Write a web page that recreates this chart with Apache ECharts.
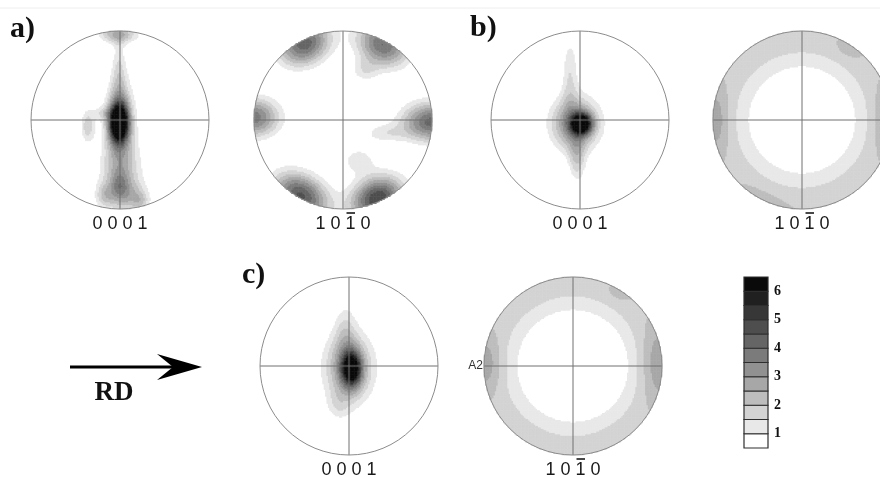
<!DOCTYPE html>
<html>
<head>
<meta charset="utf-8">
<script src="https://cdn.jsdelivr.net/npm/echarts@6/dist/echarts.min.js"></script>
<style>html,body{margin:0;padding:0;background:#fff}#chart{width:880px;height:477px}</style>
</head>
<body>
<div id="chart"></div>
<script>
// ---------------- DATA ----------------
// contour level boundaries (multiples of random) and their grey fills
const levelEdges = [1, 1.5, 2, 2.5, 3, 3.5, 4, 4.5, 5, 5.5, 6];
const levelColors = ['#ffffff', '#e8e8e8', '#d3d3d3', '#bdbdbd', '#a7a7a7', '#919191',
                     '#7b7b7b', '#656565', '#4e4e4e', '#373737', '#202020', '#0a0a0a'];
// colour bar boxes (lower/upper bound of each box) and its tick labels
const colorbarBounds = [0.5, 1, 1.5, 2, 2.5, 3, 3.5, 4, 4.5, 5, 5.5, 6, 6.5];
const colorbarTicks = [1, 2, 3, 4, 5, 6];

const panelLabels = ['a)', 'b)', 'c)'];
const figureLabels = ['0 0 0 1', '1 0 1 0', '0 0 0 1', '1 0 1 0', '0 0 0 1', '1 0 1 0'];
const figureOverline = [-1, 2, -1, 2, -1, 2];   // index of the barred digit

// Texture components of each pole figure, in units of the pole-figure radius
// peak: [x0, y0, sigmaX, sigmaY, intensity, rotationDeg]
const peaksA0001 = [
  [-0.01, -0.03, 0.075, 0.15, 6.5, 0],
  [0.00, 0.05, 0.11, 0.30, 3.0, 0],
  [-0.01, 0.60, 0.06, 0.25, 1.2, 0],
  [-0.08, 0.97, 0.14, 0.08, 1.7, 0],
  [0.08, 0.96, 0.14, 0.07, 1.2, 0],
  [0.01, -0.60, 0.17, 0.30, 2.4, 0],
  [0.00, -0.75, 0.07, 0.12, 1.5, 0],
  [-0.17, -0.85, 0.08, 0.10, 1.4, 0],
  [0.16, -0.86, 0.11, 0.12, 1.2, -30],
  [0.25, -0.92, 0.07, 0.08, 1.0, 0],
  [-0.36, -0.07, 0.06, 0.14, 1.85, 0],
  [-0.20, 0.08, 0.08, 0.05, 1.0, 0]
];
const peaksA1010 = [
  [-0.43, 0.86, 0.22, 0.17, 4.3, 26],
  [0.45, 0.85, 0.22, 0.17, 4.0, -28],
  [0.24, 0.55, 0.12, 0.10, 1.15, 0],
  [-1.00, 0.03, 0.21, 0.16, 3.8, 0],
  [1.00, -0.02, 0.24, 0.16, 4.2, 0],
  [0.45, -0.15, 0.18, 0.08, 1.2, 0],
  [-0.47, -0.85, 0.24, 0.17, 4.6, -30],
  [0.39, -0.88, 0.22, 0.17, 5.0, 24],
  [0.17, -0.45, 0.14, 0.11, 1.3, 0]
];
const peaksB0001 = [
  [0.02, -0.04, 0.08, 0.08, 5.5, 0],
  [-0.05, -0.04, 0.20, 0.22, 3.6, 0],
  [-0.11, 0.55, 0.07, 0.30, 1.4, 0],
  [-0.03, -0.45, 0.07, 0.20, 1.6, 0]
];
const peaksB1010 = [
  [-1.00, 0.00, 0.12, 0.25, 1.0, 0],
  [1.00, 0.00, 0.12, 0.25, 1.0, 0],
  [0.56, 0.83, 0.10, 0.08, 0.5, 0],
  [-0.35, -0.93, 0.25, 0.07, 0.35, -30]
];
const ringB1010 = [1.0, 0.35, 1.9];      // [radius, width, intensity]
const peaksC0001 = [
  [0.03, -0.03, 0.08, 0.14, 5.0, 0],
  [0.00, -0.02, 0.21, 0.30, 3.0, 0],
  [-0.04, 0.42, 0.09, 0.24, 1.0, 0],
  [-0.12, -0.45, 0.10, 0.13, 0.8, 0]
];
const peaksC1010 = [
  [-1.00, 0.03, 0.13, 0.22, 1.0, 0],
  [1.00, 0.03, 0.15, 0.30, 1.1, 0],
  [0.55, 0.84, 0.12, 0.08, 0.35, 0]
];
const ringC1010 = [1.0, 0.33, 1.85];

// ---------------- LAYOUT ----------------
const W = 880;
const R = 89;
const figures = [
  { cx: 120, cy: 120, peaks: peaksA0001, ring: null },
  { cx: 343, cy: 120, peaks: peaksA1010, ring: null },
  { cx: 580, cy: 120, peaks: peaksB0001, ring: null },
  { cx: 802, cy: 120, peaks: peaksB1010, ring: ringB1010 },
  { cx: 349, cy: 366, peaks: peaksC0001, ring: null },
  { cx: 573, cy: 366, peaks: peaksC1010, ring: ringC1010 }
];
const N = 128;
const cell = 2 * R / N;

function fieldValue(peaks, ring, x, y) {
  let v = 0;
  if (ring) {
    const r = Math.hypot(x, y);
    v += ring[2] * Math.exp(-((r - ring[0]) ** 2) / (2 * ring[1] ** 2));
  }
  for (const p of peaks) {
    const [x0, y0, sx, sy, a, rot] = p;
    const t = rot * Math.PI / 180;
    const dx = x - x0, dy = y - y0;
    const u = dx * Math.cos(t) + dy * Math.sin(t);
    const w = -dx * Math.sin(t) + dy * Math.cos(t);
    v += a * Math.exp(-(u * u / (2 * sx * sx) + w * w / (2 * sy * sy)));
  }
  return v;
}

const rowCats = [];
for (let i = 0; i < N; i++) rowCats.push(i);

const grids = [], xAxes = [], yAxes = [], series = [], heatIdx = [];
figures.forEach((f, k) => {
  // keep the grid inside the canvas: only columns that fit are laid out
  const cols = Math.min(N, Math.floor((W - (f.cx - R)) / cell + 1e-6));
  const colCats = rowCats.slice(0, cols);
  grids.push({ left: f.cx - R, top: f.cy - R, width: cols * cell, height: 2 * R });
  xAxes.push({ type: 'category', gridIndex: k, data: colCats, show: false });
  xAxes.push({ type: 'value', gridIndex: k, min: -1, max: -1 + cols * 2 / N, show: false });
  yAxes.push({ type: 'category', gridIndex: k, data: rowCats, show: false });
  yAxes.push({ type: 'value', gridIndex: k, min: -1, max: 1, show: false });
  const data = [];
  for (let i = 0; i < cols; i++) {
    const x = -1 + (i + 0.5) * 2 / N;
    for (let j = 0; j < N; j++) {
      const y = -1 + (j + 0.5) * 2 / N;
      if (x * x + y * y > 1) continue;
      const v = fieldValue(f.peaks, f.ring, x, y);
      if (v >= levelEdges[0]) data.push([i, j, +v.toFixed(3)]);
    }
  }
  heatIdx.push(series.length);
  series.push({
    type: 'heatmap', xAxisIndex: 2 * k, yAxisIndex: 2 * k, data,
    progressive: 0, silent: true, itemStyle: { borderWidth: 0 }
  });
  const label = figureLabels[k], bar = figureOverline[k];
  series.push({
    type: 'custom', xAxisIndex: 2 * k + 1, yAxisIndex: 2 * k + 1, clip: false, silent: true, z: 5,
    data: [[0, 0]],
    renderItem: (params, api) => {
      const c = api.coord([0, 0]);
      const e = api.coord([0, 1]);
      const r = c[1] - e[1];
      const fs = 18, dw = 0.556 * fs, sw = 0.278 * fs;
      const total = 4 * dw + 3 * sw;
      const children = [
        { type: 'line', shape: { x1: c[0] - r, y1: c[1], x2: c[0] + r, y2: c[1] }, style: { stroke: '#707070', lineWidth: 1 } },
        { type: 'line', shape: { x1: c[0], y1: c[1] - r, x2: c[0], y2: c[1] + r }, style: { stroke: '#707070', lineWidth: 1 } },
        { type: 'circle', shape: { cx: c[0], cy: c[1], r: r }, style: { fill: null, stroke: '#8c8c8c', lineWidth: 1 } },
        { type: 'text', style: { text: label, x: c[0], y: c[1] + r + 15, align: 'center', verticalAlign: 'middle',
            font: 'normal 18px "Liberation Sans", Arial, sans-serif', fill: '#1a1a1a' } }
      ];
      if (bar >= 0) {
        const x0 = c[0] - total / 2 + bar * (dw + sw);
        children.push({ type: 'line', shape: { x1: x0 + 1, y1: c[1] + r + 4, x2: x0 + dw - 0.5, y2: c[1] + r + 4 },
          style: { stroke: '#1a1a1a', lineWidth: 1.6 } });
      }
      return { type: 'group', children };
    }
  });
});

// colour bar
const cbIdx = figures.length;
grids.push({ left: 744, top: 277, width: 24, height: 171 });
xAxes.push({ type: 'value', gridIndex: cbIdx, min: 0, max: 1, show: false });
yAxes.push({ type: 'value', gridIndex: cbIdx, min: colorbarBounds[0], max: colorbarBounds[colorbarBounds.length - 1],
  position: 'right', axisLine: { show: false }, axisTick: { show: false }, splitLine: { show: false },
  axisLabel: { customValues: colorbarTicks, margin: 6, fontFamily: '"Liberation Serif", serif', fontWeight: 'bold',
    fontSize: 14, color: '#111' } });
const cbData = [];
for (let i = 0; i < colorbarBounds.length - 1; i++) cbData.push([colorbarBounds[i], colorbarBounds[i + 1], i]);
series.push({
  type: 'custom', xAxisIndex: 2 * cbIdx, yAxisIndex: 2 * cbIdx, data: cbData, silent: true,
  renderItem: (params, api) => {
    const lo = api.value(0), hi = api.value(1), idx = api.value(2);
    const p0 = api.coord([0, lo]), p1 = api.coord([1, hi]);
    return { type: 'rect', shape: { x: p0[0], y: p1[1], width: p1[0] - p0[0], height: p0[1] - p1[1] },
      style: { fill: levelColors[idx], stroke: '#2e2e2e', lineWidth: 1.2 } };
  }
});

const pieces = [];
for (let i = 0; i < levelEdges.length; i++) {
  const pc = { gte: levelEdges[i], color: levelColors[i + 1] };
  if (i + 1 < levelEdges.length) pc.lt = levelEdges[i + 1];
  pieces.push(pc);
}

const chart = echarts.init(document.getElementById('chart'), null, { renderer: 'canvas' });
chart.setOption({
  animation: false,
  backgroundColor: '#ffffff',
  grid: grids,
  xAxis: xAxes,
  yAxis: yAxes,
  visualMap: { type: 'piecewise', show: false, seriesIndex: heatIdx, dimension: 2, pieces },
  graphic: [
    { type: 'line', shape: { x1: 0, y1: 8, x2: 880, y2: 8 }, style: { stroke: '#eeeeee', lineWidth: 1 }, silent: true },
    { type: 'text', x: 10, y: 29, style: { text: panelLabels[0], font: 'bold 30px "Liberation Serif", serif', fill: '#111', verticalAlign: 'middle' } },
    { type: 'text', x: 470, y: 28, style: { text: panelLabels[1], font: 'bold 30px "Liberation Serif", serif', fill: '#111', verticalAlign: 'middle' } },
    { type: 'text', x: 242, y: 275, style: { text: panelLabels[2], font: 'bold 30px "Liberation Serif", serif', fill: '#111', verticalAlign: 'middle' } },
    { type: 'line', shape: { x1: 70, y1: 367, x2: 176, y2: 367 }, style: { stroke: '#000', lineWidth: 3 } },
    { type: 'polygon', shape: { points: [[202, 367], [157, 354], [173, 367], [157, 380]] }, style: { fill: '#000' } },
    { type: 'text', x: 114, y: 393, style: { text: 'RD', font: 'bold 27px "Liberation Serif", serif', fill: '#111', align: 'center', verticalAlign: 'middle' } },
    { type: 'text', x: 483, y: 366, style: { text: 'A2', font: '12px "Liberation Sans", Arial, sans-serif', fill: '#333', align: 'right', verticalAlign: 'middle' } }
  ],
  series
});
</script>
</body>
</html>
